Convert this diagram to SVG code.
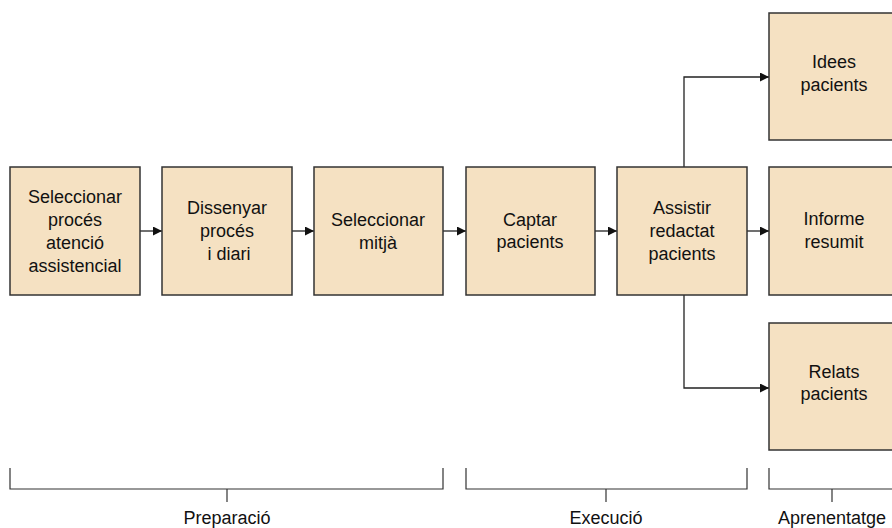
<svg xmlns="http://www.w3.org/2000/svg" width="892" height="528" viewBox="0 0 892 528">
<style>
.box{fill:#f5e1c2;stroke:#333;stroke-width:1.5}
.t{font-family:"Liberation Sans",Arial,sans-serif;font-size:18px;fill:#111;text-anchor:middle}
.c{fill:none;stroke:#222;stroke-width:1.3}
.b{fill:none;stroke:#333;stroke-width:1.2}
</style>
<defs>
<marker id="ah" viewBox="0 0 10 10" refX="10" refY="5" markerWidth="9" markerHeight="9" markerUnits="userSpaceOnUse" orient="auto">
<path d="M0,0 L10,5 L0,10 Z" fill="#111"/>
</marker>
</defs>
<rect width="892" height="528" fill="#fff"/>
<g id="connectors">
<line class="c" x1="140" y1="231" x2="162" y2="231" marker-end="url(#ah)"/>
<line class="c" x1="292" y1="231" x2="314" y2="231" marker-end="url(#ah)"/>
<line class="c" x1="443" y1="231" x2="466" y2="231" marker-end="url(#ah)"/>
<line class="c" x1="595" y1="231" x2="617" y2="231" marker-end="url(#ah)"/>
<line class="c" x1="747" y1="231" x2="769" y2="231" marker-end="url(#ah)"/>
<polyline class="c" points="684,167 684,77 769,77" marker-end="url(#ah)"/>
<polyline class="c" points="684,295 684,388 769,388" marker-end="url(#ah)"/>
</g>
<g id="n1"><rect class="box" x="10" y="167" width="130" height="128"/>
<text class="t" x="75" y="203">Seleccionar</text><text class="t" x="75" y="226">procés</text><text class="t" x="75" y="249">atenció</text><text class="t" x="75" y="272">assistencial</text></g>
<g id="n2"><rect class="box" x="162" y="167" width="130" height="128"/>
<text class="t" x="227" y="214">Dissenyar</text><text class="t" x="227" y="237">procés</text><text class="t" x="229" y="260">i diari</text></g>
<g id="n3"><rect class="box" x="314" y="167" width="129" height="128"/>
<text class="t" x="378" y="226">Seleccionar</text><text class="t" x="378" y="249">mitjà</text></g>
<g id="n4"><rect class="box" x="466" y="167" width="129" height="128"/>
<text class="t" x="530" y="226">Captar</text><text class="t" x="530" y="248">pacients</text></g>
<g id="n5"><rect class="box" x="617" y="167" width="130" height="128"/>
<text class="t" x="682" y="214">Assistir</text><text class="t" x="682" y="237">redactat</text><text class="t" x="682" y="260">pacients</text></g>
<g id="n6"><rect class="box" x="769" y="13" width="130" height="127"/>
<text class="t" x="834" y="68">Idees</text><text class="t" x="834" y="91">pacients</text></g>
<g id="n7"><rect class="box" x="769" y="167" width="130" height="128"/>
<text class="t" x="834" y="225">Informe</text><text class="t" x="834" y="248">resumit</text></g>
<g id="n8"><rect class="box" x="769" y="323" width="130" height="127"/>
<text class="t" x="834" y="378">Relats</text><text class="t" x="834" y="400">pacients</text></g>
<g id="brackets">
<polyline class="b" points="10,468 10,489 443,489 443,468"/>
<line class="b" x1="227" y1="489" x2="227" y2="502"/>
<polyline class="b" points="466,468 466,489 747,489 747,468"/>
<line class="b" x1="606" y1="489" x2="606" y2="502"/>
<polyline class="b" points="769,468 769,489 899,489"/>
<line class="b" x1="832" y1="489" x2="832" y2="502"/>
<text class="t" x="227" y="524">Preparació</text>
<text class="t" x="606" y="524">Execució</text>
<text class="t" x="832" y="524">Aprenentatge</text>
</g>
</svg>
